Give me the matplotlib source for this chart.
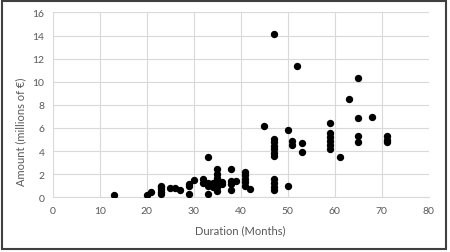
import matplotlib.pyplot as plt
from matplotlib.patches import Rectangle

duration = [13, 20, 21, 23, 23, 23, 23, 23, 25, 26, 27, 29, 29, 29, 30,
            32, 32, 33, 33, 33, 33, 34, 34, 35, 35, 35, 35, 35, 35, 35, 35,
            36, 36, 38, 38, 38, 38, 39, 41, 41, 41, 41, 41, 42, 45,
            47, 47, 47, 47, 47, 47, 47, 47, 47, 47, 47, 50, 50, 51, 51, 52,
            53, 53, 59, 59, 59, 59, 59, 59, 61, 63, 65, 65, 65, 65, 68,
            71, 71, 71]
amount = [0.2, 0.2, 0.5, 0.3, 0.5, 0.7, 0.9, 1.0, 0.78, 0.8, 0.63, 0.28, 1.0, 1.15, 1.5,
          1.6, 1.2, 3.45, 1.0, 0.3, 1.2, 1.2, 0.9, 2.45, 2.0, 1.7, 1.5, 1.3, 1.1, 0.9, 0.55,
          1.15, 1.3, 2.45, 1.45, 1.15, 0.6, 1.45, 2.2, 1.9, 1.6, 1.3, 1.0, 0.7, 6.2,
          14.1, 5.05, 4.75, 4.45, 4.15, 3.85, 3.6, 1.58, 1.2, 0.9, 0.6, 5.85, 0.95, 4.9, 4.55, 11.35,
          4.7, 3.95, 6.4, 5.55, 5.25, 4.9, 4.55, 4.2, 3.5, 8.5, 10.3, 6.9, 5.3, 4.75, 6.95,
          5.3, 5.0, 4.8]

x_ticks = [0, 10, 20, 30, 40, 50, 60, 70, 80]
y_ticks = [0, 2, 4, 6, 8, 10, 12, 14, 16]

plt.rcParams['font.family'] = ['Lato', 'DejaVu Sans']
text_color = "#595959"

fig = plt.figure(figsize=(4.5, 2.53), dpi=100)
ax = fig.add_axes([0.117, 0.216, 0.836, 0.731])

ax.scatter(duration, amount, s=28, color="black", zorder=3, linewidths=0)

ax.set_xlim(0, 80)
ax.set_ylim(0, 16)
ax.set_xticks(x_ticks)
ax.set_yticks(y_ticks)
ax.grid(True, color="#d9d9d9", linewidth=0.8)
ax.set_axisbelow(True)
for side in ["top", "right", "left"]:
    ax.spines[side].set_visible(False)
ax.spines["bottom"].set_color("#d9d9d9")
ax.tick_params(length=0, labelsize=7.5, colors=text_color, pad=6)

ax.set_xlabel("Duration (Months)", fontsize=8, color=text_color, labelpad=7)
ax.set_ylabel("Amount (millions of €)", fontsize=8, color=text_color)
ax.yaxis.set_label_coords(-0.071, 0.358)

fig.patches.append(Rectangle((0.004, 0.012), 0.988, 0.982, transform=fig.transFigure,
                             fill=False, edgecolor="#404040", linewidth=1.5))

fig.savefig("out.png", dpi=100)
